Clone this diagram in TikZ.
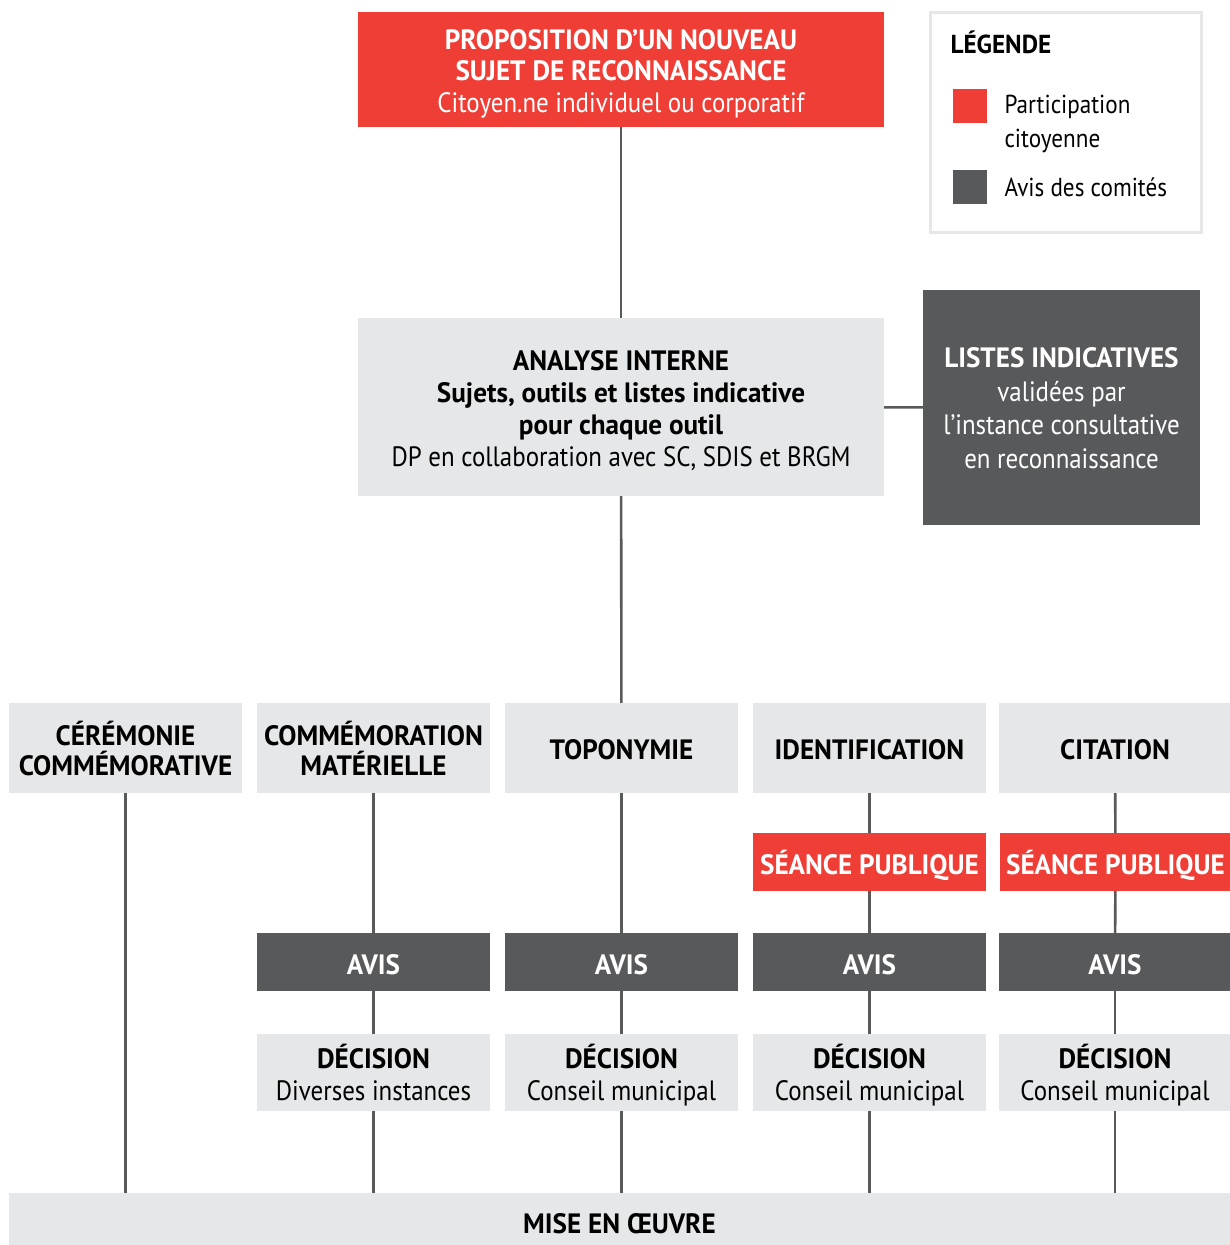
\documentclass[tikz,border=0pt]{standalone}
\usepackage{fontspec}
\setmainfont{PT Sans}[FakeStretch=0.89, BoldFeatures={FakeStretch=0.97}]
\usepackage{tikz}
\definecolor{rouge}{HTML}{EF3E36}
\definecolor{anthracite}{HTML}{58595B}
\definecolor{gris}{HTML}{E6E7E8}
\tikzstyle{etape}=[rectangle, inner sep=0pt, align=center, text depth=0pt, font=\fontsize{28}{32}\selectfont]
\tikzstyle{clair}=[etape, fill=gris, text=black]
\tikzstyle{participation}=[etape, fill=rouge, text=white]
\tikzstyle{comite}=[etape, fill=anthracite, text=white]
\tikzstyle{outil}=[clair, minimum width=233pt, minimum height=90pt, font=\fontsize{28}{30}\selectfont\bfseries]
\tikzstyle{bande}=[minimum width=233pt, minimum height=58pt, text height=24pt, font=\fontsize{28}{31}\selectfont\bfseries]
\tikzstyle{lien}=[draw=anthracite, line width=2.6pt]

\begin{document}
\begin{tikzpicture}[x=1pt, y=-1pt, every edge/.style={lien}]
\useasboundingbox (0,0) rectangle (1230,1245);
% haut
\node[participation, minimum width=526pt, minimum height=115pt, text height=85pt, font=\fontsize{28}{31.5}\selectfont] (proposition) at (621,69.5)
  {\textbf{PROPOSITION D’UN NOUVEAU}\\\textbf{SUJET DE RECONNAISSANCE}\\Citoyen.ne individuel ou corporatif};
\node[clair, minimum width=526pt, minimum height=178pt, text height=118pt] (analyse) at (621,407)
  {\textbf{ANALYSE INTERNE}\\\textbf{Sujets, outils et listes indicative}\\\textbf{pour chaque outil}\\DP en collaboration avec SC, SDIS et BRGM};
\node[comite, minimum width=277pt, minimum height=235pt, text height=121pt, font=\fontsize{28}{33.5}\selectfont] (listes) at (1061.5,407.5)
  {\textbf{LISTES INDICATIVES}\\validées par\\l’instance consultative\\en reconnaissance};

% legende
\draw[gris, line width=3pt] (930,12) rectangle (1201,232);
\node[anchor=base west, font=\fontsize{26}{28}\selectfont\bfseries] (legende) at (947,53) {LÉGENDE};
\node[fill=rouge, minimum size=34pt, inner sep=0pt] (carrerouge) at (970,106) {};
\node[fill=anthracite, minimum size=34pt, inner sep=0pt] (carregris) at (970,187) {};
\node[anchor=west, align=left, font=\fontsize{26}{34}\selectfont] (legpart) at (1001,124) {Participation\\citoyenne};
\node[anchor=west, font=\fontsize{26}{28}\selectfont] (legavis) at (1001,187) {Avis des comités};

% outils
\node[outil, text height=54pt] (ceremonie) at (125.5,748) {CÉRÉMONIE\\COMMÉMORATIVE};
\node[outil, text height=54pt] (commemoration) at (373.5,748) {COMMÉMORATION\\MATÉRIELLE};
\node[outil, text height=22pt] (toponymie) at (621.5,748) {TOPONYMIE};
\node[outil, text height=22pt] (identification) at (869.5,748) {IDENTIFICATION};
\node[outil, text height=22pt] (citation) at (1115,748) {CITATION};

\node[participation, bande] (seance1) at (869.5,862) {SÉANCE PUBLIQUE};
\node[participation, bande, minimum width=231pt] (seance2) at (1115.5,862) {SÉANCE PUBLIQUE};

\foreach \nom/\x in {avis2/373.5, avis3/621.5, avis4/869.5, avis5/1115}
  \node[comite, bande] (\nom) at (\x,962) {AVIS};

\node[clair, minimum width=233pt, minimum height=77pt, text height=55pt] (decision2) at (373.5,1072.5) {\textbf{DÉCISION}\\Diverses instances};
\foreach \nom/\x in {decision3/621.5, decision4/869.5, decision5/1115}
  \node[clair, minimum width=233pt, minimum height=77pt, text height=55pt] (\nom) at (\x,1072.5) {\textbf{DÉCISION}\\Conseil municipal};

\node[clair, minimum width=1221pt, minimum height=52pt, text height=28pt, font=\fontsize{28}{31}\selectfont\bfseries] (miseenoeuvre) at (619.5,1219) {MISE EN ŒUVRE};

% liens
\path
(proposition) edge (analyse)
(analyse) edge (listes)
(analyse) edge (toponymie)
(ceremonie.south) edge (ceremonie.south |- miseenoeuvre.north)
(commemoration) edge (avis2)
(avis2) edge (decision2)
(decision2.south) edge (decision2.south |- miseenoeuvre.north)
(toponymie) edge (avis3)
(avis3) edge (decision3)
(decision3.south) edge (decision3.south |- miseenoeuvre.north)
(identification) edge (seance1)
(seance1) edge (avis4)
(avis4) edge (decision4)
(decision4.south) edge (decision4.south |- miseenoeuvre.north)
(citation) edge (seance2)
(seance2) edge (avis5)
(avis5) edge (decision5)
(decision5.south) edge (decision5.south |- miseenoeuvre.north)
;
\end{tikzpicture}
\end{document}
